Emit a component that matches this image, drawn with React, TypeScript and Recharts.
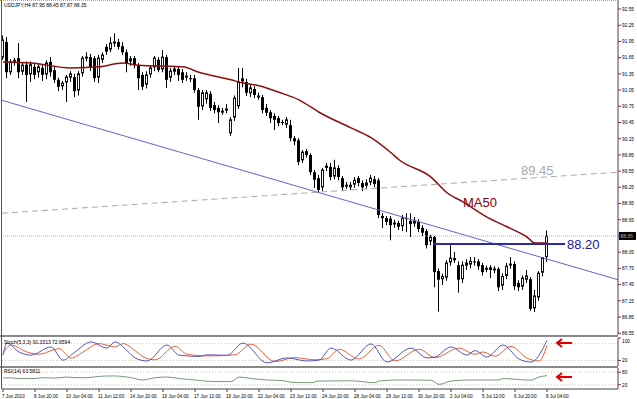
import React from 'react';
import { ComposedChart, LineChart, Line, Bar, XAxis, YAxis, ReferenceLine } from 'recharts';

// USDJPY H4 candles, 7 Jun 2010 12:00 .. 8 Jul 2010 04:00
const opens = [
  91.64, 91.94, 91.37, 91.57, 91.64, 91.38, 91.52, 91.33, 91.48, 91.37, 91.46, 91.33, 91.57, 91.42, 91.24, 91.11, 91.18, 91.27, 91.29, 91.03,
  91.35, 91.64, 91.66, 91.64, 91.27, 91.60, 91.85, 91.79, 91.90, 91.94, 91.86, 91.75, 91.57, 91.64, 91.51, 91.33, 91.14, 91.33, 91.46, 91.61,
  91.42, 91.66, 91.27, 91.38, 91.44, 91.38, 91.27, 91.27, 91.27, 91.05, 90.74, 90.87, 90.98, 90.77, 90.72, 90.64, 90.66, 90.24, 90.53, 90.74,
  91.20, 91.20, 90.98, 91.07, 90.92, 90.92, 90.72, 90.64, 90.57, 90.53, 90.46, 90.40, 90.40, 90.16, 90.12, 89.74, 89.92, 89.85, 89.53, 89.42,
  89.24, 89.65, 89.63, 89.44, 89.61, 89.42, 89.27, 89.24, 89.29, 89.42, 89.33, 89.27, 89.33, 89.40, 89.38, 88.72, 88.68, 88.67, 88.57, 88.59,
  88.52, 88.68, 88.63, 88.57, 88.61, 88.50, 88.44, 88.24, 88.33, 87.70, 87.54, 87.57, 87.85, 87.94, 87.81, 87.54, 87.79, 87.81, 87.88, 87.88,
  87.81, 87.74, 87.77, 87.72, 87.74, 87.42, 87.60, 87.79, 87.83, 87.48, 87.40, 87.53, 87.55, 87.00, 87.20, 87.66, 87.95,
];
const highs = [
  92.06, 92.03, 91.62, 91.65, 91.92, 91.55, 91.58, 91.58, 91.53, 91.55, 91.52, 91.60, 91.66, 91.50, 91.28, 91.22, 91.33, 91.40, 91.35, 91.40,
  91.68, 91.75, 91.72, 91.68, 91.70, 91.75, 91.90, 92.03, 92.10, 92.00, 91.94, 91.80, 91.68, 91.68, 91.55, 91.38, 91.40, 91.50, 91.68, 91.66,
  91.79, 91.70, 91.46, 91.50, 91.48, 91.44, 91.38, 91.33, 91.33, 91.09, 91.05, 91.05, 91.03, 90.83, 90.77, 90.72, 90.79, 90.55, 90.95, 91.46,
  91.46, 91.26, 91.14, 91.12, 91.00, 90.96, 90.79, 90.68, 90.62, 90.57, 90.50, 90.55, 90.50, 90.20, 90.16, 89.94, 89.96, 89.88, 89.57, 89.48,
  89.61, 89.70, 89.70, 89.76, 89.66, 89.46, 89.35, 89.35, 89.44, 89.46, 89.38, 89.40, 89.48, 89.46, 89.42, 88.77, 88.72, 88.72, 88.65, 88.63,
  88.74, 88.77, 88.77, 88.70, 88.66, 88.55, 88.48, 88.37, 88.35, 87.75, 87.65, 87.90, 88.18, 88.05, 87.88, 87.88, 87.92, 87.96, 87.96, 87.92,
  87.85, 87.80, 87.81, 87.79, 87.77, 87.66, 87.85, 87.96, 87.88, 87.53, 87.62, 87.72, 87.59, 87.35, 87.70, 87.96, 88.45,
];
const lows = [
  91.61, 91.27, 91.33, 91.50, 91.27, 91.33, 90.83, 91.20, 91.25, 91.28, 91.22, 91.25, 91.30, 91.18, 91.03, 91.05, 90.83, 91.20, 90.92, 90.95,
  91.30, 91.58, 91.40, 91.20, 91.18, 91.55, 91.70, 91.75, 91.85, 91.80, 91.70, 91.38, 91.50, 91.45, 91.05, 91.05, 91.08, 91.28, 91.40, 91.38,
  91.38, 91.09, 91.20, 91.33, 91.22, 91.18, 91.22, 91.20, 91.00, 90.50, 90.68, 90.80, 90.66, 90.62, 90.44, 90.59, 90.62, 90.20, 90.48, 90.70,
  91.10, 90.94, 90.92, 90.90, 90.87, 90.62, 90.57, 90.44, 90.31, 90.38, 90.40, 90.35, 90.10, 90.03, 89.66, 89.70, 89.80, 89.48, 89.24, 89.15,
  89.18, 89.55, 89.38, 89.40, 89.38, 89.20, 89.22, 89.20, 89.24, 89.27, 89.18, 89.22, 89.29, 89.25, 88.68, 88.50, 88.55, 88.27, 88.50, 88.46,
  88.44, 88.42, 88.33, 88.52, 88.42, 88.35, 88.12, 88.18, 87.40, 86.95, 87.44, 87.52, 87.80, 87.85, 87.30, 87.48, 87.72, 87.75, 87.80, 87.72,
  87.62, 87.68, 87.57, 87.66, 87.33, 87.35, 87.55, 87.74, 87.35, 87.33, 87.35, 87.48, 86.96, 86.94, 87.15, 87.60, 87.87,
];
const closes = [
  91.98, 91.38, 91.57, 91.60, 91.38, 91.51, 91.33, 91.52, 91.33, 91.48, 91.33, 91.55, 91.38, 91.24, 91.11, 91.18, 91.29, 91.35, 91.03, 91.35,
  91.64, 91.66, 91.46, 91.27, 91.64, 91.70, 91.76, 91.92, 91.94, 91.85, 91.75, 91.55, 91.63, 91.51, 91.27, 91.11, 91.33, 91.46, 91.64, 91.42,
  91.66, 91.24, 91.40, 91.44, 91.33, 91.24, 91.31, 91.26, 91.05, 90.74, 91.00, 91.00, 90.72, 90.68, 90.64, 90.66, 90.70, 90.50, 90.90, 91.20,
  91.26, 91.00, 91.09, 90.96, 90.94, 90.68, 90.63, 90.53, 90.50, 90.44, 90.45, 90.50, 90.16, 90.10, 89.72, 89.90, 89.85, 89.53, 89.39, 89.20,
  89.57, 89.61, 89.44, 89.61, 89.44, 89.25, 89.29, 89.29, 89.38, 89.33, 89.25, 89.33, 89.42, 89.31, 88.74, 88.68, 88.61, 88.55, 88.59, 88.52,
  88.68, 88.66, 88.57, 88.63, 88.48, 88.41, 88.18, 88.33, 87.68, 87.54, 87.60, 87.85, 87.94, 87.90, 87.54, 87.81, 87.85, 87.88, 87.86, 87.79,
  87.68, 87.75, 87.72, 87.74, 87.40, 87.60, 87.79, 87.83, 87.42, 87.40, 87.57, 87.61, 87.00, 87.24, 87.66, 87.95, 88.35,
];

// MA50 at a few bars
const maIdx = [0, 7, 17, 24, 30, 34, 42, 45, 49, 57, 60, 64, 69, 74, 79, 87, 92, 97, 99, 107, 111, 115, 121, 126, 131, 133, 136];
const maVal = [91.57, 91.55, 91.46, 91.48, 91.55, 91.51, 91.49, 91.48, 91.38, 91.24, 91.18, 91.13, 91.01, 90.87, 90.64, 90.35, 90.17, 89.89, 89.76, 89.44, 89.15, 88.98, 88.70, 88.52, 88.33, 88.22, 88.22];

// drawn objects
const trendBlue = [{ idx: -0.25, price: 90.86 }, { idx: 153.75, price: 87.54 }];
const trendDash = [{ idx: -0.25, price: 88.77 }, { idx: 153.75, price: 89.53 }];
const level8820 = [{ idx: 107.5, price: 88.2 }, { idx: 140.5, price: 88.2 }];
const lastPrice = 88.35;

const priceTicks = [92.55, 92.25, 91.95, 91.65, 91.35, 91.05, 90.75, 90.45, 90.15, 89.85, 89.55, 89.25, 88.95, 88.65, 88.35, 88.05, 87.75, 87.45, 87.15, 86.85, 86.55];

// Stochastic (5,3,3)
const kIdx = [0, 1, 4, 7, 12, 15, 18, 22, 26, 28, 31, 33, 36, 41, 44, 49, 51, 56, 60, 66, 71, 76, 79, 82, 87, 92, 96, 102, 106, 108, 112, 116, 118, 121, 125, 129, 132, 136];
const kVal = [39, 82, 50, 39, 68, 21, 50, 86, 64, 86, 55, 29, 18, 75, 39, 34, 40, 38, 82, 11, 29, 18, 21, 64, 21, 79, 14, 64, 29, 32, 68, 39, 55, 32, 75, 25, 14, 91.33];
const dIdx = [0, 2, 6, 9, 14, 17, 20, 24, 28, 30, 33, 35, 38, 43, 46, 51, 58, 62, 68, 73, 78, 81, 84, 89, 94, 98, 104, 108, 114, 118, 120, 123, 127, 131, 134, 136];
const dVal = [45, 75, 50, 42, 62, 28, 50, 80, 68, 80, 55, 33, 22, 70, 42, 36, 40, 78, 16, 30, 22, 26, 60, 25, 74, 18, 60, 30, 64, 42, 50, 35, 70, 28, 18, 72.66];

// RSI(14)
const rsiIdx = [0, 2, 4, 8, 10, 13, 16, 18, 21, 23, 26, 28, 32, 35, 38, 41, 44, 48, 52, 57, 59, 62, 66, 70, 72, 77, 79, 87, 93, 94, 99, 107, 109, 112, 117, 124, 125, 129, 132, 134, 136];
const rsiVal = [53, 53, 50, 50, 54, 52, 57, 54, 54, 58, 62, 62, 54, 43, 54, 57, 50, 43, 36, 35, 57, 50, 43, 40, 32, 30, 38, 39, 30, 38, 43, 42, 22, 38, 43, 43, 50, 45, 42, 57, 63.58];

const timeIdx = [0, 8, 16, 24, 32, 40, 48, 56, 64, 72, 80, 88, 96, 104, 112, 120, 128, 136];
const timeLabels = ['7 Jun 2010', '8 Jun 20:00', '10 Jun 04:00', '11 Jun 12:00', '14 Jun 20:00', '16 Jun 04:00', '17 Jun 12:00', '18 Jun 20:00', '22 Jun 04:00', '23 Jun 12:00', '24 Jun 20:00', '28 Jun 04:00', '29 Jun 12:00', '30 Jun 20:00', '2 Jul 04:00', '5 Jul 12:00', '6 Jul 20:00', '8 Jul 04:00'];

const maMap = new Map(maIdx.map((ix, i) => [ix, maVal[i]]));
const candles = opens.map((o, i) => ({ idx: i, open: o, high: highs[i], low: lows[i], close: closes[i], ma: maMap.get(i) }));

function mergeSparse(a: number[], av: number[], b: number[], bv: number[], ka: string, kb: string) {
  const m = new Map<number, any>();
  a.forEach((ix, i) => m.set(ix, { ...(m.get(ix) || { idx: ix }), [ka]: av[i] }));
  b.forEach((ix, i) => m.set(ix, { ...(m.get(ix) || { idx: ix }), [kb]: bv[i] }));
  return Array.from(m.values()).sort((p, q) => p.idx - q.idx);
}
const stochData = mergeSparse(kIdx, kVal, dIdx, dVal, 'k', 'd');
const rsiData = rsiIdx.map((ix, i) => ({ idx: ix, rsi: rsiVal[i] }));

const FONT = '"Liberation Sans", Arial, sans-serif';
const X_DOMAIN: [number, number] = [-0.25, 153.75];
const W = 637;
const AXIS_W = 19;

const Candle = (props: any) => {
  const { x, y, width, height, payload } = props;
  if (x == null || !payload) return null;
  const h = Math.abs(height);
  const top = height >= 0 ? y : y + height;
  const span = payload.high - payload.low;
  const k = span > 0 ? h / span : 0;
  const yO = top + (payload.high - payload.open) * k;
  const yC = top + (payload.high - payload.close) * k;
  const cx = Math.round(x + width / 2 - 0.5);
  const bull = payload.close >= payload.open;
  const bTop = Math.min(yO, yC);
  const bH = Math.max(1, Math.abs(yC - yO));
  return (
    <g>
      <line x1={cx + 0.5} x2={cx + 0.5} y1={top} y2={top + h} stroke="#000" strokeWidth={1} />
      {bull ? (
        <rect x={cx - 0.5} y={bTop} width={2} height={Math.max(1, bH - 1)} fill="#fff" stroke="#111" strokeWidth={1} />
      ) : (
        <rect x={cx - 1} y={bTop} width={3} height={bH} fill="#000" />
      )}
    </g>
  );
};

const PriceTick = (props: any) => {
  const { x, y, payload } = props;
  return (
    <text x={x} y={y + 1.8} fontSize={4.8} fontFamily={FONT} fill="#000" textAnchor="start">
      {Number(payload.value).toFixed(2)}
    </text>
  );
};

const SubTick = (props: any) => {
  const { x, y, payload } = props;
  return (
    <text x={x} y={y + 1.8 + (payload.value === 100 ? 3 : 0)} fontSize={4.8} fontFamily={FONT} fill="#000" textAnchor="start">
      {payload.value}
    </text>
  );
};

const TimeTick = (props: any) => {
  const { x, y, payload } = props;
  const i = timeIdx.indexOf(payload.value);
  return (
    <text x={x - 1} y={y + 4} fontSize={4.6} fontFamily={FONT} fill="#000" textAnchor="start">
      {timeLabels[i]}
    </text>
  );
};

const PriceTag = (props: any) => {
  const vb = props.viewBox || {};
  const x0 = vb.x + vb.width + 1;
  return (
    <g>
      <rect x={x0} y={vb.y - 4} width={17} height={8} fill="#000" />
      <text x={x0 + 2} y={vb.y + 1.8} fontSize={4.8} fontFamily={FONT} fill="#fff">
        {lastPrice.toFixed(2)}
      </text>
    </g>
  );
};

export default function App() {
  return (
    <div style={{ position: 'fixed', left: 0, top: 0, width: W, height: 399, background: '#fff', fontFamily: FONT }}>
      <div style={{ position: 'absolute', left: 0, top: 0 }}>
        <ComposedChart width={W} height={335} data={candles} margin={{ top: 0, right: 0, left: 2, bottom: 0 }}>
          <XAxis dataKey="idx" type="number" domain={X_DOMAIN} hide allowDataOverflow />
          <YAxis
            orientation="right"
            domain={[86.517, 92.717]}
            ticks={priceTicks}
            width={AXIS_W}
            allowDataOverflow
            interval={0}
            tickSize={3}
            tickMargin={1}
            tick={<PriceTick />}
            stroke="#5a3a5a"
            tickLine={{ stroke: '#5a3a5a' }}
          />
          <ReferenceLine
            segment={trendDash.map((p) => ({ x: p.idx, y: p.price }))}
            stroke="#c0a0a4"
            strokeDasharray="6 4"
            ifOverflow="visible"
          />
          <ReferenceLine
            segment={trendBlue.map((p) => ({ x: p.idx, y: p.price }))}
            stroke="#6464cc"
            strokeWidth={1}
            ifOverflow="visible"
          />
          <ReferenceLine y={lastPrice} stroke="#e0b040" strokeDasharray="1 1" label={<PriceTag />} />
          <Bar dataKey={(d: any) => [d.low, d.high]} barSize={3} shape={<Candle />} isAnimationActive={false} />
          <Line
            dataKey="ma"
            type="monotone"
            stroke="#8b1010"
            strokeWidth={1.5}
            dot={false}
            connectNulls
            isAnimationActive={false}
          />
          <ReferenceLine
            segment={level8820.map((p) => ({ x: p.idx, y: p.price }))}
            stroke="#2a2aa8"
            strokeWidth={2}
            ifOverflow="visible"
          />
        </ComposedChart>
      </div>

      <div style={{ position: 'absolute', left: 0, top: 335, width: 618, height: 2, background: '#8a8a8a' }} />

      <div style={{ position: 'absolute', left: 0, top: 337 }}>
        <LineChart width={W} height={29} data={stochData} margin={{ top: 1, right: 0, left: 2, bottom: 0 }}>
          <XAxis dataKey="idx" type="number" domain={X_DOMAIN} hide allowDataOverflow />
          <YAxis
            orientation="right"
            domain={[0, 100]}
            ticks={[20, 100]}
            interval={0}
            width={AXIS_W}
            tickSize={3}
            tickMargin={1}
            tick={<SubTick />}
            stroke="#5a3a5a"
          />
          <ReferenceLine y={80} stroke="#c8c8a8" strokeDasharray="1 2" />
          <ReferenceLine y={20} stroke="#c8c8a8" strokeDasharray="1 2" />
          <Line dataKey="d" type="monotone" stroke="#e8643c" strokeWidth={1} dot={false} connectNulls isAnimationActive={false} />
          <Line dataKey="k" type="monotone" stroke="#5858c8" strokeWidth={1} dot={false} connectNulls isAnimationActive={false} />
        </LineChart>
      </div>

      <div style={{ position: 'absolute', left: 0, top: 366, width: 618, height: 2, background: '#8a8a8a' }} />

      <div style={{ position: 'absolute', left: 0, top: 368 }}>
        <LineChart width={W} height={31} data={rsiData} margin={{ top: 0, right: 0, left: 2, bottom: 0 }}>
          <XAxis
            dataKey="idx"
            type="number"
            domain={X_DOMAIN}
            ticks={timeIdx}
            interval={0}
            height={10}
            tickSize={3}
            tick={<TimeTick />}
            stroke="#404040"
            allowDataOverflow
          />
          <YAxis
            orientation="right"
            domain={[0, 100]}
            ticks={[20, 80]}
            interval={0}
            width={AXIS_W}
            tickSize={3}
            tickMargin={1}
            tick={<SubTick />}
            stroke="#5a3a5a"
          />
          <ReferenceLine y={80} stroke="#c8c8a8" strokeDasharray="1 2" />
          <ReferenceLine y={20} stroke="#c8c8a8" strokeDasharray="1 2" />
          <Line dataKey="rsi" type="monotone" stroke="#7a9a7a" strokeWidth={1} dot={false} connectNulls isAnimationActive={false} />
        </LineChart>
      </div>

      {/* frame and annotations */}
      <div style={{ position: 'absolute', left: 0, top: 0, width: 618, borderTop: '1px dotted #e0a030' }} />
      <div style={{ position: 'absolute', left: 1, top: 0, width: 1, height: 389, background: '#555' }} />
      <svg width={W} height={399} style={{ position: 'absolute', left: 0, top: 0, pointerEvents: 'none' }}>
        <text x={4} y={7} fontSize={5} fontFamily={FONT} fill="#000">USDJPY,H4 87.95 88.45 87.87 88.35</text>
        <text x={4} y={343.5} fontSize={5} fontFamily={FONT} fill="#000">Stoch(5,3,3) 91.3313 72.6594</text>
        <text x={4} y={372.5} fontSize={5} fontFamily={FONT} fill="#000">RSI(14) 63.5811</text>
        <text x={463} y={207} fontSize={13} fontFamily={FONT} fill="#8b0000">MA50</text>
        <text x={521} y={175} fontSize={13} fontFamily={FONT} fill="#a8a8a8">89.45</text>
        <text x={567} y={249} fontSize={13} fontFamily={FONT} fill="#1a1a9a">88.20</text>
        <g stroke="#e00000" strokeWidth={2} fill="none">
          <path d="M557 343 H572 M562 339 L557 343 L562 347" />
          <path d="M557 377 H572 M562 373 L557 377 L562 381" />
        </g>
      </svg>
    </div>
  );
}
